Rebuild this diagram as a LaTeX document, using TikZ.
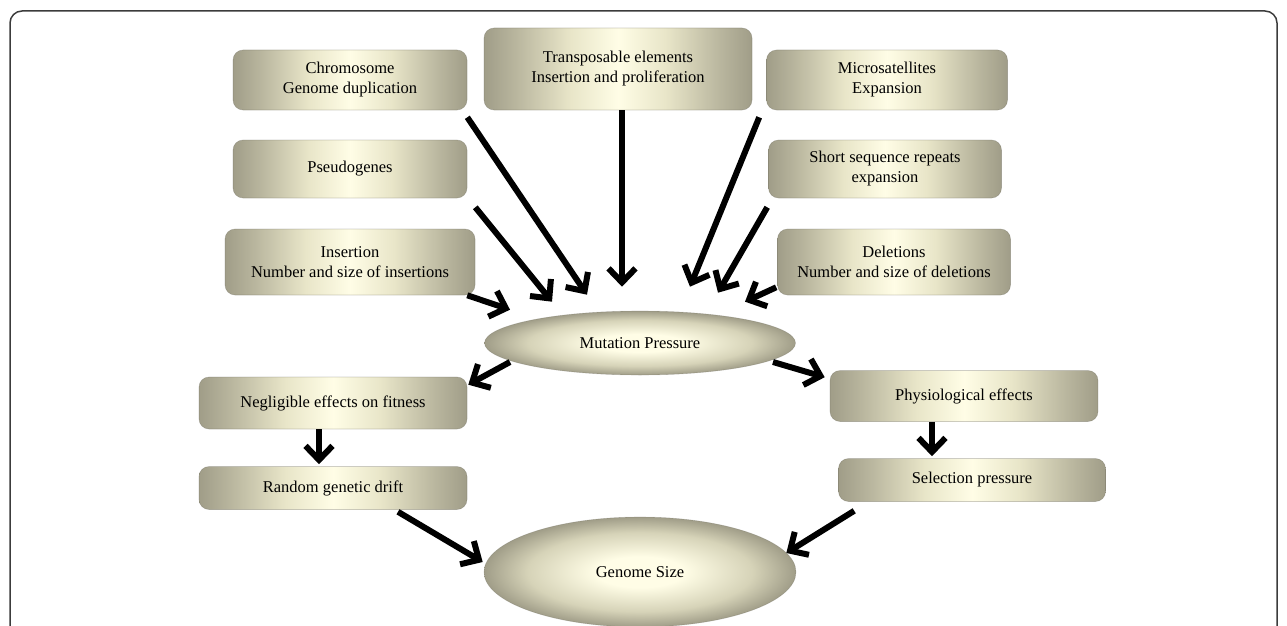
\documentclass[tikz,border=0pt]{standalone}
\usepackage{fontspec}
\setmainfont{Liberation Serif}
\usepackage{tikz}
\usepackage{xcolor}
\usetikzlibrary{shapes.geometric, arrows.meta, calc}

\definecolor{boxedge}{RGB}{160,157,136}
\definecolor{boxlight}{RGB}{232,229,200}
\definecolor{boxmid}{RGB}{255,253,230}
\definecolor{framegray}{RGB}{60,60,60}

\pgfdeclarehorizontalshading{boxshade}{100bp}{color(0bp)=(boxedge); color(25bp)=(boxedge);
    color(31bp)=(boxedge!65!boxlight); color(41bp)=(boxlight); color(50bp)=(boxmid);
    color(59bp)=(boxlight); color(69bp)=(boxedge!65!boxlight); color(75bp)=(boxedge);
    color(100bp)=(boxedge)}
\pgfdeclareradialshading{ovalshade}{\pgfpoint{0bp}{0bp}}{color(0bp)=(boxmid); color(7bp)=(boxmid);
    color(18bp)=(boxlight!75!boxedge); color(25bp)=(boxedge); color(50bp)=(boxedge)}

\tikzset{
    box/.style={rectangle, rounded corners=10pt, shading=boxshade,
        draw=boxedge!60!black, draw opacity=0.3, line width=0.6pt,
        align=center, font=\fontsize{16.5}{20}\selectfont, inner sep=0pt},
    oval/.style={ellipse, shading=ovalshade,
        draw=boxedge!60!black, draw opacity=0.25, line width=0.6pt,
        font=\fontsize{16.5}{20}\selectfont, inner sep=0pt},
    arr/.style={line width=6pt, -{Straight Barb[length=14pt,width=27pt]}}
}

\begin{document}
\begin{tikzpicture}[x=1pt,y=-1pt]
\useasboundingbox (0,0) rectangle (1287,626);
% frame
\draw[framegray, line width=1.5pt, rounded corners=12pt] (10,700) -- (10,11) -- (1277,11) -- (1277,700);

% sources of mutation
\node[box, minimum width=234pt, minimum height=60pt] (chrom) at (350,80) {Chromosome\\Genome duplication};
\node[box, minimum width=268pt, minimum height=82pt] (transp) at (618,69) {Transposable elements\\Insertion and proliferation};
\node[box, minimum width=241pt, minimum height=60pt] (micro) at (887,80) {Microsatellites\\Expansion};
\node[box, minimum width=234pt, minimum height=58pt] (pseudo) at (350,169) {Pseudogenes};
\node[box, minimum width=233pt, minimum height=58pt] (ssr) at (885,169) {Short sequence repeats\\expansion};
\node[box, minimum width=250pt, minimum height=66pt] (insert) at (350,262) {Insertion\\Number and size of insertions};
\node[box, minimum width=233pt, minimum height=66pt] (delet) at (894,262) {Deletions\\Number and size of deletions};

% centre
\node[oval, minimum width=311pt, minimum height=64pt] (mutp) at (640,343) {Mutation Pressure};

% two branches
\node[box, minimum width=268pt, minimum height=52pt] (neglig) at (333,403) {Negligible effects on fitness};
\node[box, minimum width=268pt, minimum height=43pt] (drift) at (333,488) {Random genetic drift};
\node[box, minimum width=268pt, minimum height=51pt] (physio) at (964,396) {Physiological effects};
\node[box, minimum width=267pt, minimum height=43pt] (select) at (972,480) {Selection pressure};

\node[oval, minimum width=312pt, minimum height=110pt] (gsize) at (640,572) {Genome Size};

% arrows into mutation pressure
\draw[arr] ($(chrom.south east)+(0,7)$) -- ($(mutp.north)+(-53,-16)$);
\draw[arr] ($(transp.south)+(4,0)$) -- ($(mutp.north)+(-18,-24)$);
\draw[arr] ($(pseudo.south east)+(8,9)$) -- ($(mutp.north)+(-88,-9)$);
\draw[arr] ($(insert.south east)+(-8,0)$) -- ($(mutp.north)+(-130,-1)$);
\draw[arr] ($(micro.south west)+(-7,7)$) -- ($(mutp.north)+(50,-24)$);
\draw[arr] ($(ssr.south west)+(-1,9)$) -- ($(mutp.north)+(78,-18)$);
\draw[arr] ($(delet.south west)+(-1,-8)$) -- ($(mutp.north)+(105,-9)$);

% out of mutation pressure
\draw[arr] ($(mutp.center)+(-130,19)$) -- ($(neglig.north east)+(1,8)$);
\draw[arr] ($(mutp.center)+(133,19)$) -- ($(physio.north west)+(-5,7)$);
\draw[arr] ($(neglig.south)+(-14,0)$) -- ($(drift.north)+(-14,-2)$);
\draw[arr] ($(physio.south)+(-32,0)$) -- ($(select.north)+(-40,-2)$);

% into genome size
\draw[arr] ($(drift.south)+(65,2)$) -- ($(gsize.west)+(-1,-10)$);
\draw[arr] ($(select.south west)+(16,9)$) -- ($(gsize.east)+(-10,-19)$);
\end{tikzpicture}
\end{document}
